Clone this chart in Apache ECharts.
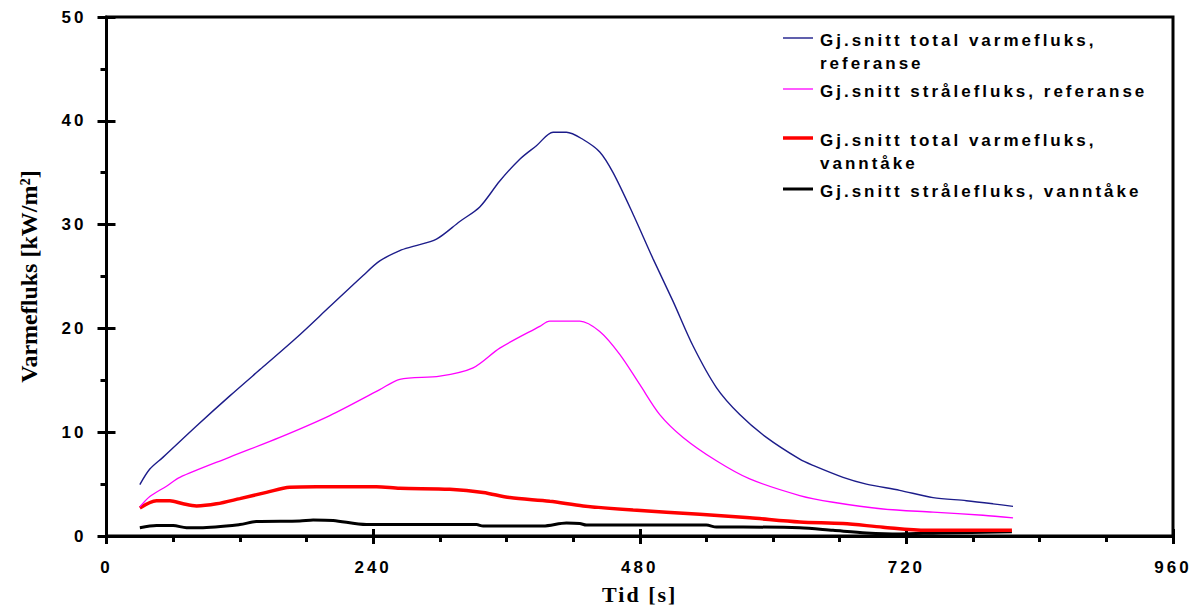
<!DOCTYPE html>
<html>
<head>
<meta charset="utf-8">
<script src="https://cdn.jsdelivr.net/npm/echarts@6/dist/echarts.min.js"></script>
<style>
  html, body { margin: 0; padding: 0; background: #fff; }
  #chart { width: 1200px; height: 610px; }
  /* spaced-out sans text: tick labels and legend (17px), time axis title (22px) */
  #chart svg text[style*="17px"] { letter-spacing: 3px; }
  #chart svg text[style*="22px"] { letter-spacing: 2px; }
</style>
</head>
<body>
<div id="chart"></div>
<script>
// Average total heat flux, reference test
const totalRefTime = [30, 39, 51, 81, 111, 141, 171, 201, 231, 246, 264, 276, 297, 318, 336, 354, 372, 387, 402, 414, 429, 444, 456, 474, 492, 510, 528, 549, 570, 594, 624, 636, 663, 684, 714, 744, 774, 798, 816];
const totalRefFlux = [4.95, 6.45, 7.6, 10.6, 13.5, 16.3, 19.1, 22.1, 25.1, 26.5, 27.5, 27.9, 28.6, 30.3, 31.7, 34.2, 36.3, 37.6, 38.9, 38.9, 38.2, 37.0, 35.0, 31.0, 26.7, 22.6, 18.3, 14.3, 11.7, 9.5, 7.4, 6.8, 5.65, 5.0, 4.4, 3.7, 3.4, 3.1, 2.85];

// Average radiant flux, reference test
const radRefTime = [30, 39, 54, 66, 111, 156, 201, 246, 264, 300, 330, 354, 390, 399, 426, 444, 462, 480, 498, 519, 549, 579, 624, 654, 699, 744, 789, 816];
const radRefFlux = [2.8, 3.8, 4.8, 5.65, 7.6, 9.5, 11.6, 14.1, 15.1, 15.4, 16.2, 18.1, 20.2, 20.7, 20.7, 19.7, 17.5, 14.6, 11.7, 9.5, 7.25, 5.5, 3.9, 3.25, 2.6, 2.3, 2.0, 1.75];

// Average total heat flux, water mist
const totalMistTime = [30, 45, 57, 69, 81, 99, 120, 144, 165, 189, 243, 264, 309, 339, 363, 399, 429, 474, 534, 579, 624, 663, 699, 738, 815];
const totalMistFlux = [2.7, 3.4, 3.4, 3.1, 2.9, 3.1, 3.6, 4.2, 4.7, 4.75, 4.75, 4.6, 4.5, 4.2, 3.7, 3.35, 2.9, 2.5, 2.1, 1.75, 1.35, 1.2, 0.85, 0.55, 0.55];

// Average radiant flux, water mist
const radMistTime = [30, 45, 60, 72, 84, 120, 135, 174, 186, 204, 234, 264, 333, 339, 393, 414, 426, 432, 540, 549, 573, 624, 654, 684, 714, 750, 815];
const radMistFlux = [0.8, 1.0, 1.0, 0.8, 0.8, 1.1, 1.4, 1.45, 1.55, 1.5, 1.1, 1.1, 1.1, 0.96, 0.96, 1.25, 1.2, 1.05, 1.05, 0.86, 0.86, 0.8, 0.55, 0.3, 0.2, 0.3, 0.4];

const seriesNames = [
  'Gj.snitt total varmefluks,\nreferanse',
  'Gj.snitt strålefluks, referanse',
  'Gj.snitt total varmefluks,\nvanntåke',
  'Gj.snitt strålefluks, vanntåke'
];
const xTicks = { min: 0, max: 960, interval: 240 };
const yTicks = { min: 0, max: 50, interval: 10 };
const xTitle = 'Tid [s]';
const yTitle = 'Varmefluks [kW/m²]';

const colors = ['#1c1c8a', '#ff00ff', '#ff0000', '#000000'];
const widths = [1.4, 1.3, 3.5, 3];

function pairs(t, v) { return t.map((x, i) => [x, v[i]]); }

const SANS = '"Liberation Sans", Arial, sans-serif';
const SERIF = '"Liberation Serif", "Times New Roman", serif';

const chart = echarts.init(document.getElementById('chart'), null, { renderer: 'svg' });

// legend drawn as sample lines + text in the upper right of the plot
const legendRowY = [38, 89, 138, 189];
const graphic = [];
legendRowY.forEach((y, i) => {
  graphic.push({
    type: 'line',
    shape: { x1: 783, y1: y, x2: 813, y2: y },
    style: { stroke: colors[i], lineWidth: widths[i] },
    silent: true
  });
  graphic.push({
    type: 'text',
    x: 820,
    y: y - 9,
    style: {
      text: seriesNames[i],
      fontSize: 17,
      fontWeight: 'bold',
      fontFamily: SANS,
      fill: '#000',
      lineHeight: 23,
      verticalAlign: 'top'
    },
    silent: true
  });
});

const axisLabelStyle = { color: '#000', fontSize: 17, fontWeight: 'bold', fontFamily: SANS };

chart.setOption({
  animation: false,
  backgroundColor: '#fff',
  grid: {
    left: 106.5, right: 27, top: 17, bottom: 71,
    show: true, borderColor: '#000', borderWidth: 3, backgroundColor: 'transparent'
  },
  xAxis: [
    {
      type: 'value', min: xTicks.min, max: xTicks.max, interval: xTicks.interval,
      position: 'bottom',
      name: xTitle, nameLocation: 'middle', nameGap: 47,
      nameTextStyle: { color: '#000', fontSize: 22, fontWeight: 'bold', fontFamily: SERIF },
      axisLine: { lineStyle: { color: '#000', width: 3 } },
      axisTick: { show: true, inside: false, length: 8, lineStyle: { color: '#000', width: 3 } },
      minorTick: { show: true, splitNumber: 4, length: 6, lineStyle: { color: '#000', width: 3 } },
      axisLabel: Object.assign({ margin: 23 }, axisLabelStyle),
      splitLine: { show: false }
    },
    {
      type: 'value', min: xTicks.min, max: xTicks.max, interval: xTicks.interval,
      position: 'bottom',
      axisLine: { show: false },
      axisTick: { show: true, inside: true, length: 7, lineStyle: { color: '#000', width: 3 } },
      axisLabel: { show: false },
      splitLine: { show: false }
    }
  ],
  yAxis: [
    {
      type: 'value', min: yTicks.min, max: yTicks.max, interval: yTicks.interval,
      position: 'left',
      name: yTitle, nameLocation: 'middle', nameGap: 66, nameRotate: 90,
      nameTextStyle: { color: '#000', fontSize: 24, fontWeight: 'bold', fontFamily: SERIF },
      axisLine: { lineStyle: { color: '#000', width: 3 } },
      axisTick: { show: true, inside: false, length: 9, lineStyle: { color: '#000', width: 3 } },
      minorTick: { show: true, splitNumber: 2, length: 6, lineStyle: { color: '#000', width: 3 } },
      axisLabel: Object.assign({ margin: 20 }, axisLabelStyle),
      splitLine: { show: false }
    },
    {
      type: 'value', min: yTicks.min, max: yTicks.max, interval: yTicks.interval,
      position: 'left',
      axisLine: { show: false },
      axisTick: { show: true, inside: true, length: 9, lineStyle: { color: '#000', width: 3 } },
      axisLabel: { show: false },
      splitLine: { show: false }
    }
  ],
  graphic: graphic,
  series: [
    { name: seriesNames[0], data: pairs(totalRefTime, totalRefFlux) },
    { name: seriesNames[1], data: pairs(radRefTime, radRefFlux) },
    { name: seriesNames[2], data: pairs(totalMistTime, totalMistFlux) },
    { name: seriesNames[3], data: pairs(radMistTime, radMistFlux) }
  ].map((s, i) => ({
    type: 'line',
    name: s.name,
    data: s.data,
    xAxisIndex: 0,
    yAxisIndex: 0,
    showSymbol: false,
    symbol: 'none',
    smooth: 0.3,
    z: 10 - i,
    lineStyle: { color: colors[i], width: widths[i] }
  }))
});
</script>
</body>
</html>
